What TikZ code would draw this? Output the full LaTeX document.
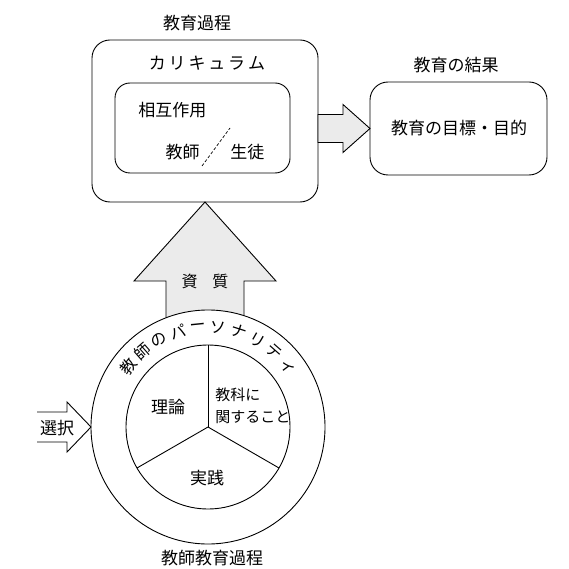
\documentclass[tikz,border=0pt]{standalone}
\usepackage{fontspec}
\setmainfont{Noto Sans CJK JP}
\usetikzlibrary{calc}
\begin{document}
\begin{tikzpicture}[x=1pt,y=-1pt, line width=0.9pt,
 rbox/.style={draw, rounded corners=18pt, inner sep=0pt, outer sep=0pt},
 lbl/.style={font=\fontsize{17}{20}\selectfont, inner sep=0pt},
 arclbl/.style={font=\fontsize{16}{18}\selectfont, inner sep=0pt},
 fatarrow/.style={draw, fill=black!8, line join=miter},
 ring/.style={draw, circle, inner sep=0pt, outer sep=0pt}]
\useasboundingbox (0,0) rectangle (568,569);
% boxes
\node[rbox, minimum width=226pt, minimum height=162pt] (proc) at (205,121) {};
\node[rbox, rounded corners=15pt, minimum width=175pt, minimum height=90pt] (inter) at (202.5,128) {};
\node[rbox, minimum width=177pt, minimum height=93pt] (res) at (458.5,128.5) {};
\node[lbl] (proct) at (197,23) {教育過程};
\node[lbl] (curr) at (207,63) {カ\,リ\,キ\,ュ\,ラ\,ム};
\node[lbl, anchor=west] (sogo) at (138,110) {相互作用};
\node[lbl, anchor=east] (teach) at (200,152) {教師};
\node[lbl, anchor=west] (stud) at (230,152) {生徒};
\coordinate (s1) at (202,166);
\coordinate (s2) at (230,128);
\draw[dash pattern=on 3pt off 2pt, line width=0.7pt] (s1) -- (s2);
\node[lbl] (rest) at (456,65) {教育の結果};
\node[lbl] (goal) at (459,128) {教育の目標・目的};
% right fat arrow
\draw[fatarrow] (res.west) -- ++(-27,-24) -- ++(0,10) -- ++(-25,0) -- ++(0,28) -- ++(25,0) -- ++(0,10) -- cycle;
% up fat arrow
\draw[fatarrow] (proc.south) -- ++(71,79) -- ++(-32,0) -- ++(0,40) -- ++(-78,0) -- ++(0,-40) -- ++(-32,0) -- cycle;
\node[lbl, font=\fontsize{16}{18}\selectfont] (shi) at (205,281) {資\hspace{15pt}質};
% circle
\node[ring, fill=white, minimum size=234pt] (outer) at (208,427) {};
\node[ring, minimum size=164pt] (inner) at (208,427) {};
\coordinate (c) at (208,427);
\draw (c) -- (inner.90);
\draw (c) -- (inner.210);
\draw (c) -- (inner.-30);
\foreach \ch [count=\i from 0] in {教,師,の,パ,ー,ソ,ナ,リ,テ,ィ} {
  \pgfmathsetmacro\a{143-\i*11.8}
  \node[arclbl, rotate=\a-90] (p\i) at ($(c)+(\a:100pt)$) {\ch};
}
\node[lbl] (riron) at (168,407) {理論};
\node[lbl, font=\fontsize{15}{22}\selectfont, anchor=west, align=left] (kyoka) at (215,406) {教科に\\関すること};
\node[lbl] (jissen) at (207,478) {実践};
% selection arrow
\node[lbl] (sel) at (57,428) {選択};
\draw (outer.west) -- ++(-24,-25) -- ++(0,10) -- ++(-30,0);
\draw (outer.west) -- ++(-24,25) -- ++(0,-10) -- ++(-30,0);
\node[lbl] (edu) at (212,558) {教師教育過程};
\end{tikzpicture}
\end{document}
